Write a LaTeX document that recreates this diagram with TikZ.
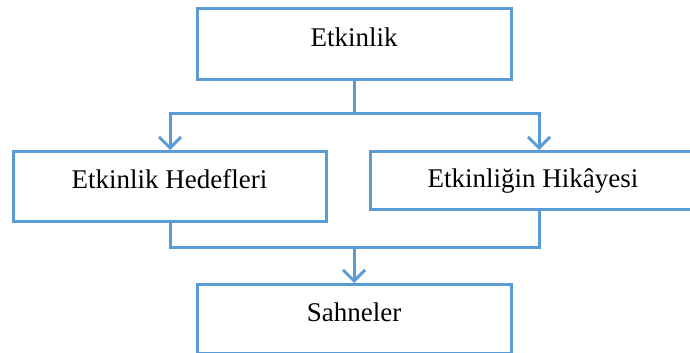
\documentclass[tikz,border=0pt]{standalone}
\usepackage{fontspec}
\setmainfont{Liberation Serif}
\usetikzlibrary{arrows.meta}
\definecolor{flowblue}{HTML}{5B9BD5}
\begin{document}
\begin{tikzpicture}[x=1pt,y=-1pt,
  stagebox/.style={draw=flowblue,line width=3pt,inner sep=0pt,anchor=north,
    font=\fontsize{27}{32}\selectfont},
  link/.style={draw=flowblue,line width=3pt},
  flowarrow/.style={link,-{Straight Barb[length=11pt,width=22pt]}}]
  \clip (0,0) rectangle (690,353);
  \node[stagebox,minimum width=314pt,text height=38pt,text depth=33pt] (etk) at (354,7) {Etkinlik};
  \node[stagebox,minimum width=313pt,text height=37pt,text depth=33pt] (hedef) at (169.5,150) {Etkinlik Hedefleri};
  \node[stagebox,minimum width=326pt,text height=36pt,text depth=22pt] (hikaye) at (533,150) {Etkinliğin Hikâyesi};
  \node[stagebox,minimum width=314pt,text height=37pt,text depth=32pt] (sahne) at (354,283) {Sahneler};
  % split from the activity into its two parts
  \coordinate (split) at (354,113);
  \draw[link] (etk.south) -- (split);
  \draw[flowarrow] (split) -| ([xshift=0.5pt]hedef.north);
  \draw[flowarrow] (split) -| ([xshift=6pt]hikaye.north);
  % merge of both parts into the scenes
  \coordinate (merge) at (354,247);
  \draw[link] ([xshift=0.5pt]hedef.south) |- (merge);
  \draw[link] ([xshift=6pt]hikaye.south) |- (merge);
  \draw[flowarrow] (merge) -- (sahne.north);
\end{tikzpicture}
\end{document}
